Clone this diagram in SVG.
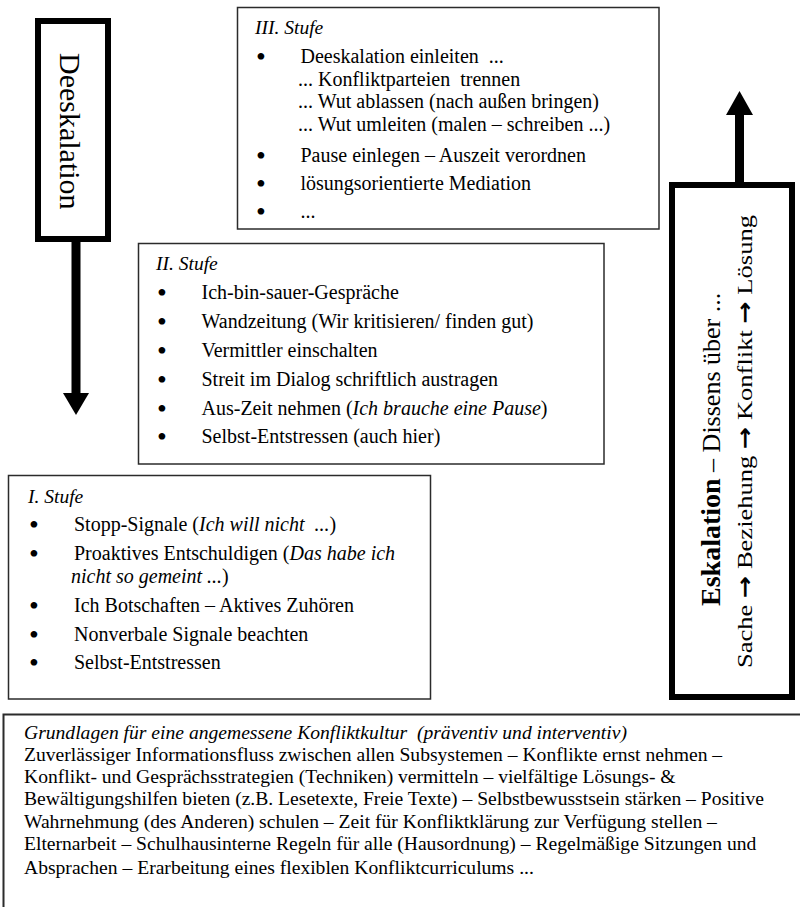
<svg xmlns="http://www.w3.org/2000/svg" width="800" height="907" viewBox="0 0 800 907">
<style>
text { font-family: "Liberation Serif", "Times New Roman", serif; fill: #000; white-space: pre; }
.t { font-size: 20px; }
.h { font-size: 19.5px; font-style: italic; }
.it { font-style: italic; }
.bu { font-size: 28px; text-anchor: middle; }
.bt { font-size: 19.6px; }
.ar { font-family: "DejaVu Sans", sans-serif; font-weight: bold; }
.box { fill: #fff; stroke: #2b2b2b; stroke-width: 1.5; }
.bigbox { fill: #fff; stroke: #000; stroke-width: 6; }
.arrow { fill: #000; stroke: none; }
</style>
<rect x="0" y="0" width="800" height="907" fill="#fff"/>

<g id="deeskalation">
  <rect class="bigbox" x="38" y="21" width="70" height="218"/>
  <text transform="translate(60,53) rotate(90)" style="font-size:30px">Deeskalation</text>
</g>

<g id="eskalation">
  <rect class="bigbox" x="672" y="185" width="120" height="512"/>
  <text transform="translate(720,606) rotate(-90)"><tspan style="font-weight:bold;font-size:28px">Eskalation</tspan><tspan style="font-size:26px"> – Dissens über ...</tspan></text>
  <text transform="translate(752,668) rotate(-90)" style="font-size:22px" textLength="453" lengthAdjust="spacingAndGlyphs">Sache <tspan class="ar">→</tspan> Beziehung <tspan class="ar">→</tspan> Konflikt <tspan class="ar">→</tspan> Lösung</text>
</g>

<g id="connectors">
  <rect class="arrow" x="71.5" y="240" width="9" height="155"/>
  <polygon class="arrow" points="63,393 89,393 76,415"/>
  <rect class="arrow" x="735" y="113" width="9" height="70"/>
  <polygon class="arrow" points="726,115 753,115 739.5,91"/>
</g>

<g id="stufe3">
  <rect class="box" x="237.5" y="7.5" width="421.5" height="221.5"/>
  <text class="h" x="255" y="34">III. Stufe</text>
  <text class="bu" x="261" y="66">•</text>
  <text class="t" x="300.5" y="63">Deeskalation einleiten  ...</text>
  <text class="t" x="298" y="85.5">... Konfliktparteien  trennen</text>
  <text class="t" x="298" y="108">... Wut ablassen (nach außen bringen)</text>
  <text class="t" x="298" y="130.5">... Wut umleiten (malen – schreiben ...)</text>
  <text class="bu" x="261" y="164.5">•</text>
  <text class="t" x="300.5" y="161.5">Pause einlegen – Auszeit verordnen</text>
  <text class="bu" x="261" y="193">•</text>
  <text class="t" x="300.5" y="190">lösungsorientierte Mediation</text>
  <text class="bu" x="261" y="221">•</text>
  <text class="t" x="300.5" y="218">...</text>
</g>

<g id="stufe2">
  <rect class="box" x="138.5" y="243.5" width="465.5" height="220.5"/>
  <text class="h" x="156" y="270">II. Stufe</text>
  <text class="bu" x="162" y="302">•</text>
  <text class="t" x="201.5" y="299">Ich-bin-sauer-Gespräche</text>
  <text class="bu" x="162" y="331">•</text>
  <text class="t" x="201.5" y="328">Wandzeitung (Wir kritisieren/ finden gut)</text>
  <text class="bu" x="162" y="360">•</text>
  <text class="t" x="201.5" y="357">Vermittler einschalten</text>
  <text class="bu" x="162" y="389">•</text>
  <text class="t" x="201.5" y="386">Streit im Dialog schriftlich austragen</text>
  <text class="bu" x="162" y="417.5">•</text>
  <text class="t" x="201.5" y="414.5">Aus-Zeit nehmen (<tspan class="it">Ich brauche eine Pause</tspan>)</text>
  <text class="bu" x="162" y="446">•</text>
  <text class="t" x="201.5" y="443">Selbst-Entstressen (auch hier)</text>
</g>

<g id="stufe1">
  <rect class="box" x="8.5" y="475.5" width="422" height="223.5"/>
  <text class="h" x="28" y="503">I. Stufe</text>
  <text class="bu" x="34" y="534">•</text>
  <text class="t" x="74" y="531">Stopp-Signale (<tspan class="it">Ich will nicht  ...</tspan>)</text>
  <text class="bu" x="34" y="563">•</text>
  <text class="t" x="74" y="560">Proaktives Entschuldigen (<tspan class="it">Das habe ich</tspan></text>
  <text class="t" x="71" y="583"><tspan class="it">nicht so gemeint ...</tspan>)</text>
  <text class="bu" x="34" y="615">•</text>
  <text class="t" x="74" y="612">Ich Botschaften – Aktives Zuhören</text>
  <text class="bu" x="34" y="644">•</text>
  <text class="t" x="74" y="641">Nonverbale Signale beachten</text>
  <text class="bu" x="34" y="672">•</text>
  <text class="t" x="74" y="669">Selbst-Entstressen</text>
</g>

<g id="grundlagen">
  <rect class="box" x="3.5" y="714.5" width="820" height="220" style="stroke-width:2"/>
  <text class="bt it" x="24" y="739">Grundlagen für eine angemessene Konfliktkultur  (präventiv und interventiv)</text>
  <text class="bt" x="24" y="761">Zuverlässiger Informationsfluss zwischen allen Subsystemen – Konflikte ernst nehmen –</text>
  <text class="bt" x="24" y="783">Konflikt- und Gesprächsstrategien (Techniken) vermitteln – vielfältige Lösungs- &amp;</text>
  <text class="bt" x="24" y="805">Bewältigungshilfen bieten (z.B. Lesetexte, Freie Texte) – Selbstbewusstsein stärken – Positive</text>
  <text class="bt" x="24" y="828">Wahrnehmung (des Anderen) schulen – Zeit für Konfliktklärung zur Verfügung stellen –</text>
  <text class="bt" x="24" y="850">Elternarbeit – Schulhausinterne Regeln für alle (Hausordnung) – Regelmäßige Sitzungen und</text>
  <text class="bt" x="24" y="874">Absprachen – Erarbeitung eines flexiblen Konfliktcurriculums ...</text>
</g>
</svg>
